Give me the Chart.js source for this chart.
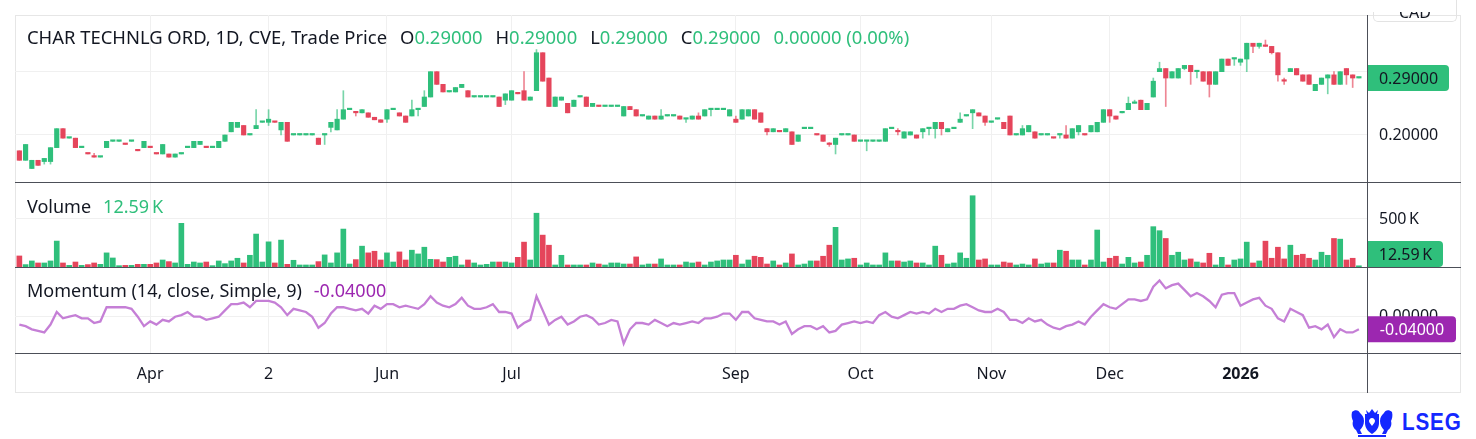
<!DOCTYPE html>
<html>
<head>
<meta charset="utf-8">
<script src="https://cdn.jsdelivr.net/npm/chart.js@4.4.1/dist/chart.umd.min.js"></script>
<style>
  html, body { margin: 0; padding: 0; background: #fff; width: 1476px; height: 439px; overflow: hidden;
    font-family: "Noto Sans", sans-serif; color: #131722; }
  .pane { position: absolute; left: 15px; }
  .pane canvas { display: block; }
  .frame { position: absolute; left: 15px; top: 15px; width: 1444px; height: 376px; border: 1px solid #e6e6e6; }
  .hsep { position: absolute; left: 15px; width: 1446px; height: 1px; background: #4c4f58; }
  .vsep { position: absolute; left: 1367px; top: 15px; width: 1px; height: 378px; background: #4c4f58; }
  .legend { position: absolute; left: 27px; font-size: 18px; line-height: 20px; white-space: nowrap; }
  .legend span { margin-left: 12px; }
  .legend span.v { margin-left: 0; }
  #title { font-size: 18.4px; }
  #title span { margin-left: 13px; }
  #title span.v { margin-left: 0; }
  .up { color: #2fbf7b; }
  .mom { color: #9c27b0; }
  .cad { position: absolute; left: 1373px; top: 0; width: 82px; height: 21px; border: 1px solid #e3e3e3;
    border-top: none; border-radius: 0 0 5px 5px; overflow: hidden; }
  .cad div { position: absolute; top: 1px; left: 0; width: 82px; text-align: center; font-size: 16px; }
  .cadclip { position: absolute; left: 1373px; top: 0; width: 82px; height: 12px; background: #fff; }
  .lseg { position: absolute; left: 1402px; top: 408px; font-family: "Liberation Sans", sans-serif; font-weight: bold;
    font-size: 24px; letter-spacing: 1px; color: #1428ff; transform: scaleX(0.86); transform-origin: left center; }
  .crest { position: absolute; left: 1350px; top: 406px; }
</style>
</head>
<body>
<div class="frame"></div>

<div class="pane" style="top:15px"><canvas id="price" width="1446" height="167"></canvas></div>
<div class="pane" style="top:182px"><canvas id="volume" width="1446" height="85"></canvas></div>
<div class="pane" style="top:267px"><canvas id="momentum" width="1446" height="126"></canvas></div>

<div class="hsep" style="top:182px"></div>
<div class="hsep" style="top:267px"></div>
<div class="hsep" style="top:353px"></div>
<div class="vsep"></div>

<div class="cad"><div>CAD</div></div>
<div class="cadclip"></div>

<div id="title" class="legend" style="top:27px"></div>
<div id="volLegend" class="legend" style="top:196px"></div>
<div id="momLegend" class="legend" style="top:280px"></div>

<svg class="crest" width="44" height="32" viewBox="0 0 44 32">
  <g fill="#1428ff">
    <path d="M15 8 h14 v9 c0 6 -4 9 -7 11 c-3 -2 -7 -5 -7 -11 z"/>
    <path d="M16 4 l3 3 l3 -4 l3 4 l3 -3 l-1 4 h-10 z"/>
    <path d="M2 6 c3 -3 7 -2 8 1 c2 2 4 4 4 8 c0 4 -2 7 -4 9 l2 4 h-4 l-2 -4 c-3 -2 -4 -6 -3 -9 c-1 -2 -2 -5 -1 -9 z"/>
    <path d="M42 6 c-3 -3 -7 -2 -8 1 c-2 2 -4 4 -4 8 c0 4 2 7 4 9 l-2 4 h4 l2 -4 c3 -2 4 -6 3 -9 c1 -2 2 -5 1 -9 z"/>
    <rect x="8" y="29" width="28" height="2"/>
  </g>
  <path d="M22 12 c-2 0 -3 2 -3 3 c0 2 2 3 3 5 c1 -2 3 -3 3 -5 c0 -1 -1 -3 -3 -3 z" fill="#fff"/>
</svg>
<div class="lseg">LSEG</div>

<script>
/* ── Données (lecture du graphique, séances quotidiennes) ── */
const OPEN = [
  .175,.16,.147,.16,.158,.158,.18,.21,.195,.195,.18,.17,.165,.165,.18,.19,.19,.185,.19,.175,
  .18,.18,.17,.17,.17,.165,.17,.18,.18,.185,.18,.18,.18,.19,.205,.212,.215,.20,.21,.22,
  .22,.22,.208,.22,.20,.20,.20,.20,.195,.20,.212,.208,.225,.24,.235,.235,.235,.228,.224,.225,
  .24,.235,.23,.23,.24,.245,.26,.30,.28,.268,.268,.275,.27,.26,.26,.26,.26,.26,.255,.255,
  .265,.27,.255,.27,.33,.29,.245,.255,.25,.245,.26,.26,.245,.245,.245,.245,.245,.23,.245,.24,
  .23,.225,.23,.225,.23,.23,.23,.225,.225,.23,.23,.24,.24,.24,.23,.225,.225,.23,.24,.235,
  .21,.205,.205,.205,.205,.19,.21,.21,.20,.20,.185,.185,.20,.20,.20,.19,.19,.19,.19,.19,
  .21,.205,.195,.20,.20,.205,.21,.21,.22,.205,.21,.22,.23,.235,.235,.23,.22,.225,.22,.23,
  .20,.20,.205,.205,.20,.20,.195,.20,.20,.195,.205,.20,.205,.205,.22,.24,.23,.235,.24,.25,
  .255,.24,.26,.30,.305,.29,.29,.305,.31,.30,.30,.30,.28,.30,.32,.32,.315,.32,.345,.34,
  .34,.34,.33,.285,.30,.305,.295,.295,.27,.28,.29,.295,.28,.305,.295,.29
];
const HIGH = [
  .175,.185,.16,.16,.163,.18,.21,.21,.195,.195,.18,.17,.171,.165,.19,.19,.19,.185,.19,.175,
  .19,.18,.17,.185,.17,.17,.17,.18,.19,.19,.18,.18,.19,.20,.22,.22,.215,.20,.24,.22,
  .24,.22,.22,.22,.20,.20,.20,.20,.195,.20,.22,.24,.27,.24,.235,.24,.235,.228,.224,.24,
  .24,.235,.23,.255,.24,.27,.30,.30,.28,.268,.275,.28,.27,.26,.26,.26,.26,.26,.265,.27,
  .265,.30,.26,.335,.33,.29,.26,.26,.25,.255,.26,.26,.25,.245,.245,.245,.245,.245,.245,.24,
  .23,.23,.23,.24,.23,.23,.23,.225,.23,.235,.24,.24,.24,.24,.24,.23,.24,.24,.24,.235,
  .21,.21,.205,.21,.205,.20,.21,.21,.20,.20,.188,.195,.20,.20,.20,.19,.19,.19,.19,.21,
  .21,.21,.205,.205,.20,.21,.21,.22,.22,.21,.21,.235,.23,.24,.235,.23,.22,.225,.22,.23,
  .20,.215,.215,.205,.20,.20,.195,.20,.215,.21,.215,.20,.215,.22,.24,.24,.23,.235,.26,.255,
  .255,.25,.29,.315,.305,.30,.305,.31,.31,.30,.30,.30,.30,.32,.32,.32,.32,.345,.345,.345,
  .35,.34,.33,.29,.305,.305,.295,.295,.28,.29,.295,.30,.30,.305,.295,.29
];
const LOW = [
  .16,.16,.147,.152,.154,.154,.18,.195,.195,.18,.18,.17,.165,.165,.18,.19,.19,.185,.19,.175,
  .18,.18,.17,.17,.165,.165,.17,.18,.18,.185,.18,.18,.18,.19,.205,.212,.20,.20,.21,.22,
  .215,.22,.20,.19,.20,.20,.20,.20,.185,.185,.205,.208,.225,.24,.23,.235,.228,.224,.22,.22,
  .24,.23,.22,.23,.23,.245,.26,.28,.268,.268,.268,.275,.26,.26,.26,.26,.26,.245,.248,.255,
  .265,.255,.255,.27,.285,.245,.245,.255,.235,.245,.26,.245,.245,.245,.245,.245,.245,.23,.24,.23,
  .23,.225,.225,.225,.23,.23,.225,.22,.225,.225,.23,.23,.24,.24,.23,.22,.225,.23,.225,.22,
  .20,.205,.205,.205,.185,.19,.21,.21,.20,.19,.182,.17,.20,.20,.19,.19,.175,.19,.19,.19,
  .21,.20,.195,.20,.195,.195,.20,.195,.20,.205,.21,.22,.23,.21,.23,.215,.22,.225,.21,.20,
  .20,.20,.205,.195,.20,.20,.195,.195,.195,.195,.20,.20,.205,.205,.22,.22,.225,.235,.24,.25,
  .24,.24,.26,.30,.245,.29,.29,.303,.28,.29,.285,.26,.28,.30,.31,.31,.31,.30,.33,.337,
  .34,.328,.285,.28,.30,.295,.285,.28,.27,.28,.265,.28,.28,.28,.275,.29
];
const CLOSE = [
  .16,.185,.16,.152,.163,.18,.21,.195,.195,.18,.18,.17,.165,.165,.19,.19,.19,.185,.19,.175,
  .19,.18,.17,.185,.165,.17,.17,.18,.19,.19,.18,.18,.19,.20,.22,.22,.20,.20,.215,.22,
  .225,.22,.22,.19,.20,.20,.20,.20,.185,.20,.22,.225,.24,.24,.235,.24,.228,.224,.22,.24,
  .24,.23,.22,.24,.24,.26,.30,.28,.268,.268,.275,.28,.26,.26,.26,.26,.26,.245,.265,.27,
  .265,.255,.26,.33,.285,.245,.26,.26,.235,.255,.26,.245,.25,.245,.245,.245,.245,.245,.24,.23,
  .23,.23,.225,.23,.23,.23,.225,.225,.23,.225,.24,.24,.24,.24,.24,.22,.24,.24,.225,.22,
  .205,.21,.205,.21,.185,.20,.21,.21,.20,.19,.185,.195,.20,.20,.19,.19,.19,.19,.19,.21,
  .21,.205,.205,.205,.195,.21,.21,.22,.21,.21,.21,.225,.23,.24,.23,.22,.22,.225,.21,.20,
  .20,.21,.215,.195,.20,.20,.195,.20,.195,.21,.215,.20,.215,.22,.24,.23,.225,.235,.25,.25,
  .24,.25,.285,.305,.29,.30,.305,.31,.30,.30,.285,.28,.30,.32,.31,.32,.32,.345,.34,.345,
  .34,.33,.295,.285,.305,.295,.285,.28,.28,.29,.295,.28,.30,.295,.29,.29
];
// volume en milliers d'actions
const VOLUME_K = [
  115,25,63,42,42,63,270,42,17,52,17,25,42,28,147,94,14,17,17,28,
  28,28,42,73,56,42,455,28,52,42,52,14,63,35,63,91,42,122,343,52,
  262,42,280,28,70,21,21,21,56,126,42,147,395,31,77,217,147,164,73,147,
  52,157,73,175,136,206,80,77,52,101,112,21,73,42,21,28,52,52,52,42,
  101,259,73,560,332,227,21,122,21,21,21,21,42,31,21,42,42,31,31,105,
  21,31,31,84,21,21,21,52,42,52,21,52,63,73,73,122,31,73,112,101,
  31,63,21,42,136,21,31,63,63,112,227,413,73,84,91,21,42,21,21,147,
  63,63,52,63,42,42,21,217,122,31,42,147,91,742,73,84,21,21,52,42,
  21,31,21,84,31,42,42,175,164,73,73,21,73,385,52,91,112,31,101,42,
  52,122,420,378,297,122,154,73,84,52,42,143,21,101,21,73,84,259,42,63,
  269,91,206,84,227,122,133,91,73,154,122,297,290,73,91,12.59
];
// Momentum (14, close, Simple, 9)
const MOMENTUM = [
  -.025,-.03,-.04,-.045,-.05,-.025,.015,-.005,0,.005,-.005,-.005,-.02,-.015,.03,.03,.03,.03,.025,0,
  -.03,-.015,-.025,-.01,-.015,0,.005,.015,0,0,-.01,-.005,0,.02,.04,.04,.045,.03,.05,.05,
  .05,.045,.03,.005,.025,.02,.015,0,-.035,-.02,.01,.03,.03,.025,.02,.025,.01,.035,.025,.04,
  .04,.03,.035,.03,.025,.04,.065,.045,.035,.03,.04,.06,.035,.025,.025,.03,.04,.015,.015,.01,
  -.035,-.02,-.01,.065,.02,-.025,-.01,0,-.025,-.015,0,.005,-.005,-.025,-.02,-.01,-.015,-.085,-.04,-.02,
  -.02,-.025,-.01,-.02,-.03,-.02,-.025,-.02,-.015,-.02,-.005,-.005,0,.01,.01,-.01,.015,.015,-.005,-.01,
  -.015,-.015,-.025,-.015,-.055,-.04,-.03,-.03,-.04,-.03,-.05,-.045,-.025,-.02,-.015,-.02,-.015,-.02,.005,.015,
  0,-.005,.005,.015,.01,.015,.01,.025,.015,.025,.025,.035,.04,.03,.02,.015,.015,.025,.015,-.01,
  -.01,-.02,-.005,-.015,-.01,-.025,-.035,-.04,-.03,-.025,-.015,-.025,0,.02,.04,.03,.025,.04,.055,.055,
  .05,.055,.095,.115,.09,.1,.105,.085,.065,.075,.065,.05,.03,.07,.075,.075,.035,.045,.055,.06,
  .035,.025,-.005,-.015,.025,.015,.005,-.035,-.03,-.04,-.025,-.065,-.04,-.05,-.05,-.04
];
// repères de l'axe du temps (index de séance)
const TICK_IDX = [21, 40, 59, 79, 115, 135, 156, 175, 196];
const TICK_NAMES = ['Apr', '2', 'Jun', 'Jul', 'Sep', 'Oct', 'Nov', 'Dec', '2026'];
const PRICE_TICKS = [0.2, 0.3];
const VOLUME_TICKS = [500];
const MOMENTUM_TICKS = [0];

const FONT = '"Noto Sans", sans-serif';
const TEXT = '#131722';
const GRID = '#f0f0f0';
const GREEN = '#2fbf7b';
const RED = '#e5455b';
const GREEN_WICK = 'rgba(47,191,123,0.65)';
const RED_WICK = 'rgba(229,69,91,0.65)';
const PURPLE_LINE = '#c57fd6';
const PURPLE = '#9c27b0';
const AXIS_W = 94;
const X_MIN = -0.7, X_MAX = 216.3;

const idx = CLOSE.map((_, i) => i);
// hausse : clôture > ouverture, à égalité on compare à la veille
const isUp = idx.map(i => CLOSE[i] > OPEN[i] || (CLOSE[i] === OPEN[i] && (i === 0 || CLOSE[i] >= CLOSE[i - 1])));
const last = idx.length - 1;

/* ── Étiquette de dernière valeur sur l'axe droit ── */
const lastTag = {
  id: 'lastTag',
  afterDraw(chart, args, o) {
    if (!o || o.text === undefined) return;
    const { ctx, chartArea } = chart;
    let y = chart.scales.y.getPixelForValue(o.value);
    y = Math.min(Math.max(y, chartArea.top + 13), chartArea.bottom - 13);
    ctx.save();
    ctx.fillStyle = o.bg;
    ctx.beginPath();
    ctx.roundRect(chartArea.right + 1, y - 13, o.width, 26, [0, 4, 4, 0]);
    ctx.fill();
    ctx.fillStyle = o.fg;
    ctx.font = '16px ' + FONT;
    ctx.textAlign = 'center';
    ctx.textBaseline = 'middle';
    ctx.fillText(o.text, chartArea.right + 1 + o.width / 2, y + 1);
    ctx.restore();
  }
};

function xAxis(showLabels) {
  return {
    type: 'linear', min: X_MIN, max: X_MAX, offset: false,
    afterBuildTicks: s => { s.ticks = TICK_IDX.map(v => ({ value: v })); },
    afterFit: s => { s.height = showLabels ? 40 : 0; s.paddingLeft = 0; s.paddingRight = 0; },
    grid: { color: GRID, drawTicks: false, offset: false },
    border: { display: false },
    ticks: {
      display: showLabels, padding: 12, color: TEXT, autoSkip: false, maxRotation: 0,
      callback: (v, i) => TICK_NAMES[i],
      font: c => ({ family: FONT, size: 16, weight: TICK_NAMES[c.index] === '2026' ? 'bold' : 'normal' })
    }
  };
}

function yAxis(min, max, ticks, fmt) {
  return {
    position: 'right', min, max,
    afterBuildTicks: s => { s.ticks = ticks.map(v => ({ value: v })); },
    afterFit: s => { s.width = AXIS_W; s.paddingTop = 0; s.paddingBottom = 0; },
    grid: { color: GRID, drawTicks: false },
    border: { display: false },
    ticks: { padding: 12, color: TEXT, font: { family: FONT, size: 16 }, callback: fmt }
  };
}

const baseOptions = {
  responsive: false,
  animation: false,
  events: [],
  layout: { padding: 0 },
  plugins: { legend: { display: false }, tooltip: { enabled: false } }
};

/* ── Cours (chandeliers en barres flottantes) ── */
new Chart(document.getElementById('price'), {
  type: 'bar',
  plugins: [lastTag],
  data: {
    datasets: [
      {
        data: idx.map(i => ({ x: i, y: [LOW[i], HIGH[i]] })),
        backgroundColor: idx.map(i => isUp[i] ? GREEN_WICK : RED_WICK),
        barThickness: 1, grouped: false, order: 2
      },
      {
        data: idx.map(i => ({ x: i, y: [OPEN[i], CLOSE[i]] })),
        backgroundColor: idx.map(i => isUp[i] ? GREEN : RED),
        barThickness: 4.5, minBarLength: 1.5, grouped: false, order: 1
      }
    ]
  },
  options: {
    ...baseOptions,
    scales: {
      x: xAxis(false),
      y: yAxis(0.1257, 0.3896, PRICE_TICKS,
        v => Math.abs(v - CLOSE[last]) < 0.02 ? '' : v.toFixed(5))
    },
    plugins: {
      ...baseOptions.plugins,
      lastTag: { value: CLOSE[last], text: CLOSE[last].toFixed(5), bg: GREEN, fg: TEXT, width: 81 }
    }
  }
});

/* ── Volume ── */
new Chart(document.getElementById('volume'), {
  type: 'bar',
  plugins: [lastTag],
  data: {
    datasets: [{
      data: idx.map(i => ({ x: i, y: VOLUME_K[i] })),
      backgroundColor: idx.map(i => isUp[i] ? GREEN : RED),
      barThickness: 5
    }]
  },
  options: {
    ...baseOptions,
    scales: {
      x: xAxis(false),
      y: yAxis(0, 885, VOLUME_TICKS, v => v + '\u202FK')
    },
    plugins: {
      ...baseOptions.plugins,
      lastTag: { value: VOLUME_K[last], text: VOLUME_K[last].toFixed(2) + '\u202FK', bg: GREEN, fg: TEXT, width: 75 }
    }
  }
});

/* ── Momentum ── */
new Chart(document.getElementById('momentum'), {
  type: 'line',
  plugins: [lastTag],
  data: {
    datasets: [{
      data: idx.map(i => ({ x: i, y: MOMENTUM[i] })),
      borderColor: PURPLE_LINE,
      borderWidth: 2.3,
      pointRadius: 0,
      tension: 0
    }]
  },
  options: {
    ...baseOptions,
    scales: {
      x: xAxis(true),
      y: yAxis(-0.1152, 0.1578, MOMENTUM_TICKS, v => v.toFixed(5))
    },
    plugins: {
      ...baseOptions.plugins,
      lastTag: { value: MOMENTUM[last], text: MOMENTUM[last].toFixed(5), bg: PURPLE, fg: '#fff', width: 88 }
    }
  }
});

/* ── Légendes ── */
const f5 = v => v.toFixed(5);
const chg = CLOSE[last] - CLOSE[last - 1];
document.getElementById('title').innerHTML =
  '<span class="v">CHAR TECHNLG ORD, 1D, CVE, Trade Price</span>' +
  '<span>O<b class="up" style="font-weight:normal">' + f5(OPEN[last]) + '</b></span>' +
  '<span>H<b class="up" style="font-weight:normal">' + f5(HIGH[last]) + '</b></span>' +
  '<span>L<b class="up" style="font-weight:normal">' + f5(LOW[last]) + '</b></span>' +
  '<span>C<b class="up" style="font-weight:normal">' + f5(CLOSE[last]) + '</b></span>' +
  '<span class="up">' + f5(chg) + ' (' + (chg / CLOSE[last - 1] * 100).toFixed(2) + '%)</span>';
document.getElementById('volLegend').innerHTML =
  '<span class="v">Volume</span><span class="up">' + VOLUME_K[last].toFixed(2) + '\u202FK</span>';
document.getElementById('momLegend').innerHTML =
  '<span class="v">Momentum (14, close, Simple, 9)</span><span class="mom">' + f5(MOMENTUM[last]) + '</span>';
</script>
</body>
</html>
